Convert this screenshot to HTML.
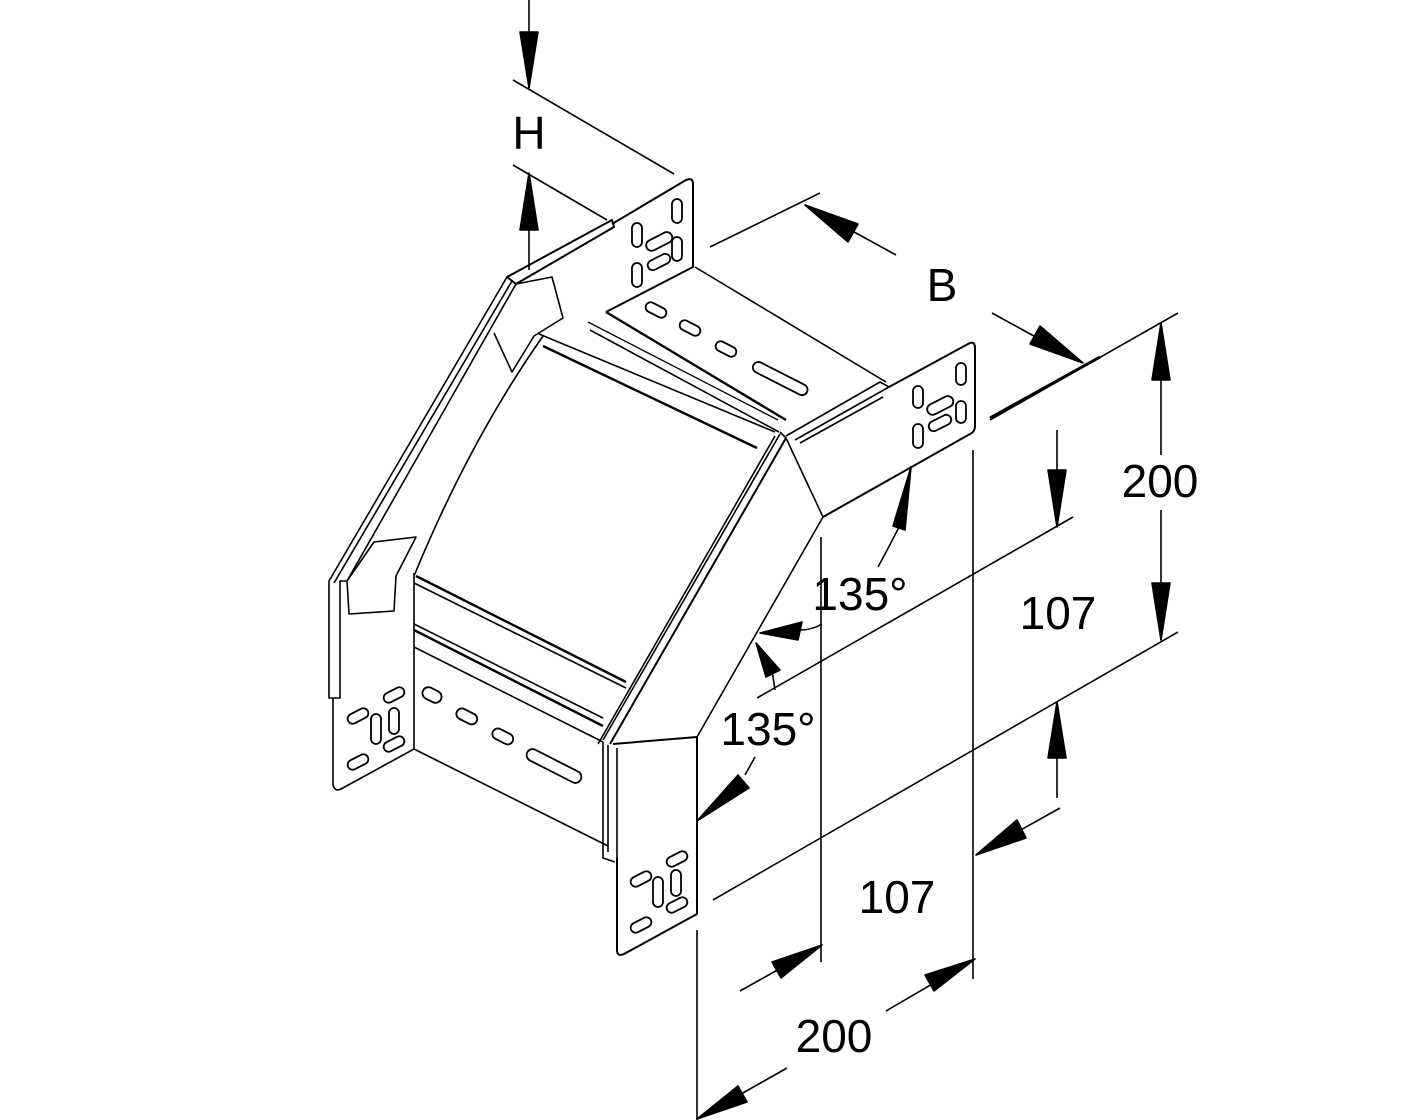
<!DOCTYPE html>
<html><head><meta charset="utf-8"><style>
html,body{margin:0;padding:0;background:#fff}
svg{display:block}
text{font-family:"Liberation Sans",Arial,sans-serif;font-size:46px;fill:#000}
</style></head><body>
<svg width="1417" height="1120" viewBox="0 0 1417 1120" xmlns="http://www.w3.org/2000/svg">
<g stroke="#000" stroke-width="1.6" fill="none" stroke-linejoin="round">
<!-- H dimension -->
<line x1="529" y1="0" x2="529" y2="88"/>
<polygon points="520,32 538,32 529,88" fill="#000"/>
<line x1="513" y1="80" x2="674" y2="174"/>
<line x1="513" y1="165" x2="607" y2="220"/>
<line x1="529" y1="173" x2="529" y2="270"/>
<polygon points="520,230 538,230 529,173" fill="#000"/>

<!-- top left plate -->
<path d="M612,224 L686,180 Q693,177 693,184 L693,267 L606,312" stroke-width="2"/>
<!-- top-left rail -->
<path d="M507,277 L612,220 L614,227 L516,284 Z" stroke-width="2"/>
<path d="M507,277 L329,581 L329,698 L340,698 L340,581 L347,581 L516,284"/>
<line x1="512" y1="281" x2="334" y2="583"/>
<!-- upper left tab -->
<path d="M516,284 L552,277 L563,318 L534,336 L512,372 L494,333"/>
<!-- lower left tab -->
<path d="M347,581 L374,542 L416,537 L396,576 L394,611 L349,614 Z"/>

<!-- lower left plate -->
<path d="M333,698 L333,785 Q335,792 341,789 L414,749 L414,573"/>
<!-- lower-left channel -->
<line x1="414" y1="624" x2="603" y2="718"/>
<line x1="414" y1="630" x2="603" y2="726" stroke-width="2.4"/>
<line x1="414" y1="647" x2="603" y2="742"/>
<line x1="414" y1="749" x2="608" y2="846"/>
<path d="M603,742 L603,858 L615,862"/>
<line x1="608" y1="745" x2="608" y2="852"/>

<!-- top box -->
<line x1="695" y1="267" x2="886" y2="382"/>
<line x1="606" y1="312" x2="786" y2="420" stroke-width="2.4"/>
<line x1="588" y1="322" x2="778" y2="420" stroke-width="1.3"/>
<line x1="590" y1="330" x2="779" y2="432" stroke-width="1.6"/>
<line x1="539" y1="334" x2="775" y2="432"/>
<line x1="543" y1="346" x2="757" y2="448" stroke-width="2.4"/>
<path d="M543,336 Q470,440 414,576"/>
<line x1="416" y1="576" x2="626" y2="682" stroke-width="2.4"/>
<line x1="414" y1="583" x2="626" y2="688"/>
<!-- slot holes top channel -->
<g stroke-width="1.8">
<rect x="645" y="305" width="22" height="10" rx="5" transform="rotate(27 656 310)"/>
<rect x="679" y="323" width="22" height="10" rx="5" transform="rotate(27 690 328)"/>
<rect x="715" y="344" width="22" height="10" rx="5" transform="rotate(27 726 349)"/>
<rect x="750" y="373" width="60" height="11" rx="5.5" transform="rotate(27 780 379)"/>
<rect x="422" y="689" width="20" height="12" rx="6" transform="rotate(27 432 695)"/>
<rect x="456" y="711" width="22" height="11" rx="5.5" transform="rotate(27 467 716)"/>
<rect x="492" y="731" width="22" height="11" rx="5.5" transform="rotate(27 503 736)"/>
<rect x="524" y="760" width="60" height="12" rx="6" transform="rotate(27 554 766)"/>
</g>
<!-- right rail bit -->
<path d="M786,436 L880,382 L889,387 L795,440"/>
<line x1="800" y1="443" x2="883" y2="397"/>

<!-- right plate -->
<path d="M889,387 L968,344 Q975,340 975,348 L975,426 Q975,432 970,434 L823,517" stroke-width="2"/>
<!-- bend -->
<path d="M780,432 L786,438 L823,517"/>
<!-- diagonals -->
<line x1="786" y1="438" x2="610" y2="744" stroke-width="2"/>
<line x1="780" y1="434" x2="603" y2="740"/>
<line x1="775" y1="436" x2="598" y2="744"/>
<line x1="823" y1="517" x2="697" y2="737"/>

<!-- front plate -->
<path d="M613,744 L697,737 L697,914 L624,954 Q617,957 617,950 L617,858" stroke-width="2"/>
<line x1="617" y1="748" x2="617" y2="858"/>

<!-- plate holes -->
<g stroke-width="1.8">
<rect x="632" y="223" width="10" height="24" rx="5"/>
<rect x="672" y="199" width="10" height="24" rx="5"/>
<rect x="672" y="237" width="10" height="24" rx="5"/>
<rect x="632" y="263" width="10" height="24" rx="5"/>
<rect x="645" y="236" width="28" height="11" rx="5.5" transform="rotate(-27 659 241)"/>
<rect x="647" y="257" width="24" height="10" rx="5" transform="rotate(-27 659 262)"/>
<rect x="913" y="386" width="10" height="22" rx="5"/>
<rect x="956" y="363" width="10" height="22" rx="5"/>
<rect x="956" y="401" width="10" height="22" rx="5"/>
<rect x="913" y="424" width="10" height="24" rx="5"/>
<rect x="926" y="400" width="28" height="11" rx="5.5" transform="rotate(-27 940 405)"/>
<rect x="928" y="418" width="24" height="10" rx="5" transform="rotate(-27 940 423)"/>
<rect x="347" y="711" width="22" height="10" rx="5" transform="rotate(-27 358 716)"/>
<rect x="383" y="690" width="22" height="10" rx="5" transform="rotate(-27 394 695)"/>
<rect x="371" y="714" width="10" height="30" rx="5"/>
<rect x="389" y="708" width="10" height="26" rx="5"/>
<rect x="383" y="739" width="22" height="10" rx="5" transform="rotate(-27 394 744)"/>
<rect x="347" y="757" width="22" height="10" rx="5" transform="rotate(-27 358 762)"/>
<rect x="630" y="874" width="22" height="10" rx="5" transform="rotate(-27 641 879)"/>
<rect x="666" y="854" width="22" height="10" rx="5" transform="rotate(-27 677 859)"/>
<rect x="653" y="877" width="10" height="30" rx="5"/>
<rect x="671" y="870" width="10" height="26" rx="5"/>
<rect x="666" y="900" width="22" height="10" rx="5" transform="rotate(-27 677 905)"/>
<rect x="630" y="920" width="22" height="10" rx="5" transform="rotate(-27 641 925)"/>
</g>

<!-- B dimension -->
<line x1="710" y1="247" x2="820" y2="193"/>
<line x1="805" y1="205" x2="896" y2="255"/>
<polygon points="805,205 858,224 848,242" fill="#000"/>
<line x1="992" y1="313" x2="1083" y2="363"/>
<polygon points="1083,363 1030,344 1040,326" fill="#000"/>
<line x1="990" y1="420" x2="1178" y2="313"/>
<line x1="990" y1="418" x2="1100" y2="357" stroke-width="3"/>

<!-- 200 right -->
<line x1="1161" y1="323" x2="1161" y2="455"/>
<polygon points="1152,380 1170,380 1161,323" fill="#000"/>
<line x1="1161" y1="510" x2="1161" y2="640"/>
<polygon points="1152,583 1170,583 1161,640" fill="#000"/>
<line x1="713" y1="900" x2="1178" y2="632"/>

<!-- 107 right -->
<line x1="1057" y1="430" x2="1057" y2="527"/>
<polygon points="1048,470 1066,470 1057,527" fill="#000"/>
<line x1="757" y1="698" x2="1073" y2="517"/>
<line x1="1057" y1="702" x2="1057" y2="798"/>
<polygon points="1048,758 1066,758 1057,702" fill="#000"/>
<line x1="976" y1="855" x2="1060" y2="808"/>
<polygon points="976,855 1017,820 1026,838" fill="#000"/>

<!-- vertical extension -->
<line x1="821" y1="537" x2="821" y2="962"/>
<line x1="973" y1="450" x2="973" y2="979"/>
<line x1="697" y1="930" x2="697" y2="1122"/>

<!-- bottom dims -->
<line x1="740" y1="991" x2="822" y2="945"/>
<polygon points="822,945 781,978 772,962" fill="#000"/>
<line x1="886" y1="1011" x2="975" y2="959"/>
<polygon points="975,959 934,991 925,975" fill="#000"/>
<line x1="697" y1="1119" x2="787" y2="1068"/>
<polygon points="697,1119 738,1086 747,1102" fill="#000"/>

<!-- 135 arrows -->
<path d="M878,567 Q890,545 900,525"/>
<polygon points="911,467 905,530 893,526" fill="#000"/>
<path d="M822,624 Q812,630 800,630"/>
<polygon points="760,633 802,622 798,640" fill="#000"/>
<path d="M775,690 L772,670"/>
<polygon points="756,643 780,670 766,677" fill="#000"/>
<path d="M755,757 L745,775"/>
<polygon points="697,821 738,775 749,788" fill="#000"/>
</g>
<text x="529" y="149" text-anchor="middle">H</text>
<text x="942" y="301" text-anchor="middle">B</text>
<text x="1160" y="497" text-anchor="middle">200</text>
<text x="1058" y="629" text-anchor="middle">107</text>
<text x="860" y="610" text-anchor="middle">135°</text>
<text x="768" y="745" text-anchor="middle">135°</text>
<text x="897" y="913" text-anchor="middle">107</text>
<text x="834" y="1052" text-anchor="middle">200</text>
</svg>
</body></html>
